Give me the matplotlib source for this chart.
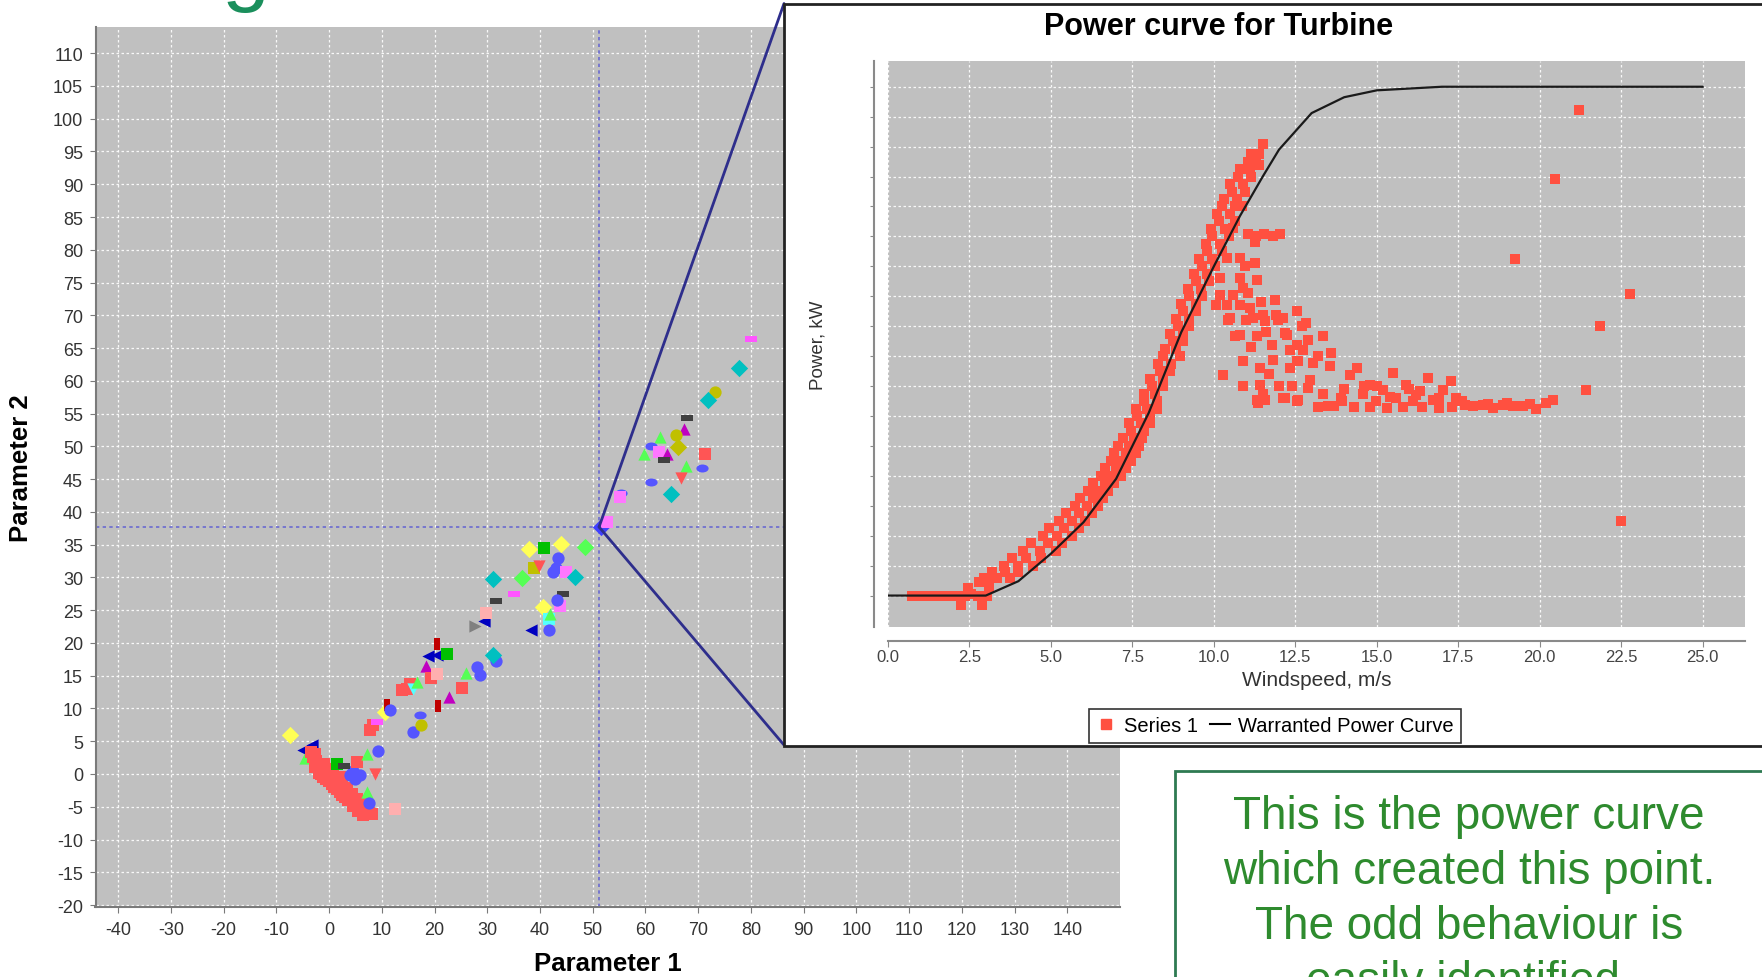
import numpy as np
import matplotlib
matplotlib.use('Agg')
import matplotlib.pyplot as plt
from matplotlib.patches import Rectangle, ConnectionPatch
from matplotlib.path import Path
from matplotlib.transforms import Affine2D
from matplotlib.lines import Line2D

plt.rcParams['font.family'] = ['Liberation Sans', 'DejaVu Sans']
plt.rcParams['axes.unicode_minus'] = False

# ---------------- main chart data (parameter 1, parameter 2, series style) ----------------
low_x = [-7.4, -4.9, -3.3, -4.6,
         -3.0, -2.4, -1.7, -1.0, -0.6, -0.1, 0.3, 0.8, 1.2, 1.5, 2.0, 2.4,
         2.9, 3.4, 3.9, 4.3, 4.8, 5.3, 5.8, 6.2, 6.6, 7.1, 7.6, 8.1,
         -2.0, -1.2, 0.0, 1.0, 2.0, 3.0,
         -2.6, -1.5, -0.5, 0.5, 1.5, 2.5, 3.5, 4.5, 5.5, 6.5, -3.5, -2.7,
         4.9, 4.0, 5.8, 4.5, 8.7, 5.3, 7.2, 9.2, 7.2, 7.6, 12.5, 1.5, 2.8]
low_y = [5.9, 3.6, 4.4, 2.4,
         2.6, 2.0, 1.3, 1.5, 0.4, 0.8, -0.2, 0.0, -1.0, -0.7, -0.4, -1.5,
         -2.4, -2.2, -3.4, -3.0, -4.2, -3.8, -4.6, -4.5, -5.4, -5.3, -6.0, -6.1,
         0.2, -0.5, -1.0, -2.0, -2.8, -3.5,
         1.0, 0.0, -0.8, -1.6, -2.3, -3.2, -4.0, -4.9, -5.6, -6.3, 3.3, 3.0,
         -0.7, -0.2, -0.2, 0.5, 0.0, 1.8, 3.1, 3.5, -2.7, -4.5, -5.4, 1.6, 1.2]
low_sid = [3, 9, 9, 2,
           0, 0, 0, 0, 0, 0, 0, 0, 0, 0, 0, 0,
           0, 0, 0, 0, 0, 0, 0, 0, 0, 0, 0, 0,
           0, 0, 0, 0, 0, 0,
           0, 0, 0, 0, 0, 0, 0, 0, 0, 0, 0, 0,
           1, 1, 1, 1, 17, 0, 2, 1, 2, 1, 21, 10, 14]

branch_x = [7.8, 8.4, 9.0, 10.6, 10.9, 11.5, 13.8, 14.8, 15.3, 16.0, 16.7, 18.3, 18.7, 20.4, 20.5, 22.3, 19.4, 20.5,
            16.0, 17.2, 17.5, 20.7, 22.8, 25.2, 25.9, 28.6, 28.0, 31.7, 31.0]
branch_y = [6.7, 7.4, 7.9, 9.5, 10.5, 9.8, 12.8, 13.0, 13.8, 13.0, 14.0, 16.5, 18.0, 19.8, 18.2, 18.3, 14.7, 15.3,
            6.4, 9.0, 7.5, 10.4, 11.8, 13.1, 15.4, 15.1, 16.3, 17.3, 18.2]
branch_sid = [0, 0, 4, 3, 8, 1, 0, 0, 0, 5, 2, 12, 9, 8, 9, 10, 0, 21,
              1, 16, 11, 8, 12, 0, 2, 1, 1, 1, 13]

mid_x = [27.7, 29.4, 29.8, 31.6, 31.0, 35.0, 36.6, 37.9, 40.8, 43.9, 48.5, 38.8, 39.8, 43.0,
         43.5, 42.5, 45.0, 46.6, 44.4, 40.5, 43.7, 43.2, 41.7, 41.9, 38.3, 41.7, 51.5, 52.7]
mid_y = [22.6, 23.4, 24.5, 26.4, 29.7, 27.5, 29.9, 34.3, 34.5, 35.1, 34.7, 31.4, 31.8, 31.5,
         33.0, 30.8, 30.8, 30.1, 27.4, 25.5, 25.7, 26.6, 23.7, 24.4, 22.0, 22.0, 37.7, 38.4]
mid_sid = [7, 9, 21, 14, 13, 4, 18, 3, 10, 3, 18, 19, 17, 1,
           1, 1, 15, 13, 14, 3, 15, 1, 20, 2, 9, 1, 22, 15]

up_x = [80.0, 77.7, 73.2, 71.8, 67.9, 67.4, 65.8, 66.1, 62.7, 61.0, 59.8,
        62.5, 64.0, 63.6, 71.2, 70.7, 67.7, 66.7, 61.0, 64.8, 55.3, 55.2]
up_y = [66.4, 62.0, 58.3, 57.0, 54.4, 52.7, 51.8, 49.9, 51.4, 50.1, 48.9,
        49.2, 48.9, 47.9, 48.9, 46.7, 47.0, 45.2, 44.6, 42.8, 42.9, 42.3]
up_sid = [4, 13, 11, 13, 14, 12, 11, 23, 2, 16, 2,
          15, 12, 14, 0, 16, 2, 17, 16, 13, 16, 15]

selected_point = (51.2, 37.7)

# ---------------- inset data: windspeed (m/s) vs power (kW) ----------------
curve_ws = [0.0, 3.0, 4.0, 5.0, 6.0, 7.0, 8.0, 9.0, 10.0, 10.8, 11.5, 12.0, 13.0, 14.0, 15.0, 17.0, 25.0]
curve_kw = [0, 0, 48, 140, 245, 390, 610, 880, 1100, 1268, 1400, 1490, 1612, 1665, 1688, 1700, 1700]

flat_ws = [0.75, 0.95, 1.15, 1.35, 1.55, 1.75, 1.95, 2.15, 2.35, 2.55, 2.75, 2.95, 2.25, 2.9, 2.45, 2.8, 3.1, 3.25, 3.05]
flat_kw = [0, 0, 0, 0, 0, 0, 0, 0, 0, 5, 0, 0, -30, -30, 25, 45, 30, 60, 0]

ramp_ws = [2.95, 3.35, 3.75, 3.55, 4.0, 4.45, 4.15, 4.65, 5.15, 4.75, 5.2, 5.65,
           5.25, 5.65, 6.05, 5.75, 6.1, 6.45, 6.15, 6.45, 6.75, 6.55, 6.85, 7.15,
           6.85, 7.15, 7.45, 7.05, 7.4, 7.7, 7.45, 7.85, 7.65, 8.05, 7.85, 8.25,
           8.1, 8.45, 8.35, 8.65, 8.45, 8.95, 8.75, 9.05, 8.9, 9.25, 9.05, 9.45,
           9.25, 9.65, 9.45, 9.85, 9.65, 10.05, 9.8, 10.25, 9.95, 10.45, 10.15, 10.65,
           10.25, 10.65, 10.85, 10.55, 10.95, 10.75, 11.15, 11.05, 11.3, 11.5, 11.4]
ramp_kw = [60, 60, 60, 100, 100, 100, 150, 150, 150, 200, 200, 200,
           250, 250, 250, 300, 300, 300, 350, 350, 350, 400, 400, 400,
           450, 450, 450, 500, 500, 500, 550, 550, 600, 600, 650, 650,
           700, 700, 750, 750, 800, 800, 850, 850, 900, 900, 950, 950,
           1000, 1000, 1050, 1050, 1100, 1100, 1150, 1150, 1200, 1200, 1250, 1250,
           1300, 1300, 1300, 1350, 1350, 1400, 1400, 1450, 1450, 1510, 1440]

fill_ws = [3.2, 3.6, 4.0, 3.8, 4.25, 4.7, 4.4, 4.9, 5.35, 4.95, 5.4, 5.85,
           5.45, 5.85, 6.25, 5.9, 6.3, 6.6, 6.3, 6.65, 6.95, 6.65, 7.0, 7.3,
           6.95, 7.3, 7.6, 7.2, 7.55, 7.8, 7.4, 7.75, 8.05, 7.6, 7.95, 8.25,
           7.85, 8.2, 8.05, 8.45, 8.3, 8.7, 8.5, 8.85, 8.65, 9.05, 8.85, 9.25,
           9.0, 9.45, 9.2, 9.6, 9.4, 9.8, 9.55, 9.95, 9.75, 10.2, 9.9, 10.35,
           10.1, 10.5, 10.3, 10.7, 10.5, 10.9, 10.8, 11.1, 11.15, 11.4]
fill_kw = [80, 80, 80, 125, 125, 125, 175, 175, 175, 225, 225, 225,
           275, 275, 275, 325, 325, 325, 375, 375, 375, 425, 425, 425,
           475, 475, 475, 525, 525, 525, 575, 575, 575, 625, 625, 625,
           675, 675, 725, 725, 775, 775, 825, 825, 875, 875, 925, 925,
           975, 975, 1025, 1025, 1075, 1075, 1125, 1125, 1175, 1175, 1225, 1225,
           1275, 1275, 1325, 1325, 1375, 1375, 1425, 1425, 1475, 1475]

drop_ws = [10.59, 10.39, 10.18, 10.18, 10.08, 11.05, 11.3, 11.55, 11.8, 12.02, 11.25,
           10.8, 11.26, 11.31, 10.8, 10.9, 10.59, 10.39, 10.49, 10.8, 11.1, 11.2, 11.51,
           11.87, 11.92, 12.13, 12.54, 10.8, 11.31, 11.77, 12.23, 12.54, 10.9, 11.41,
           11.82, 12.54, 10.29, 10.9, 11.41, 11.51, 11.36, 12.13, 12.54, 10.44, 11.0,
           11.56, 11.97, 12.84, 10.64, 12.18, 12.89, 13.35, 12.74, 13.61, 12.33, 12.59,
           13.05, 13.56, 11.31, 11.56, 12.18, 12.59, 12.89, 13.35, 13.51, 13.92,
           11.05, 11.6, 12.35, 12.7, 11.15, 11.7, 12.0, 12.95, 13.2, 10.95, 11.45, 12.4]
drop_kw = [1227, 1127, 1061, 1005, 972, 1207, 1200, 1207, 1200, 1207, 1180,
           1127, 1111, 1055, 1061, 1027, 1005, 972, 927, 972, 961, 927, 938,
           988, 938, 927, 950, 872, 866, 838, 872, 838, 783, 761,
           788, 783, 738, 700, 705, 672, 644, 661, 650, 922, 922,
           916, 922, 911, 866, 877, 855, 866, 822, 811, 761, 783,
           777, 766, 655, 655, 661, 655, 694, 672, 633, 650,
           1010, 880, 820, 900, 830, 740, 700, 720, 800, 1100, 980, 700]

tail_ws = [14.17, 14.38, 14.58, 14.79, 14.99, 15.19, 15.5, 15.6, 15.91, 16.11, 16.32, 16.58,
           16.73, 17.04, 17.29, 17.44, 17.7, 17.96, 18.26, 18.57, 18.88, 19.18, 19.49, 19.9,
           20.2, 20.41, 13.2, 13.7, 14.3, 14.8, 15.3, 15.8, 16.4, 16.9, 17.3, 14.0, 15.0, 16.0,
           13.9, 14.6, 15.4, 16.2, 16.9, 17.6, 18.4, 19.0, 19.7]
tail_kw = [738, 761, 672, 705, 650, 688, 744, 661, 705, 650, 683, 727,
           655, 688, 716, 661, 638, 633, 638, 627, 638, 633, 633, 622,
           644, 655, 629, 633, 629, 629, 627, 629, 629, 627, 629, 690, 700, 690,
           660, 700, 665, 670, 660, 650, 640, 645, 640]

outlier_ws = [21.2, 20.46, 19.25, 22.77, 21.85, 21.43, 22.48]
outlier_kw = [1622, 1391, 1124, 1008, 900, 688, 250]

note_lines = ['This is the power curve', 'which created this point.',
              'The odd behaviour is', 'easily identified.']

# ---------------- marker styles (JFreeChart-like series paints / shapes) ----------------
HRECT = [(-1, -0.55), (1, -0.55), (1, 0.55), (-1, 0.55)]
VRECT = [(-0.5, -1), (0.5, -1), (0.5, 1), (-0.5, 1)]
ELLIPSE = Affine2D().scale(1, 0.65).transform_path(Path.unit_circle())

STYLES = [
    ('#ff5555', 's'), ('#5555ff', 'o'), ('#55ff55', '^'), ('#ffff55', 'D'),
    ('#ff55ff', HRECT), ('#55ffff', 'v'), ('#ffafaf', ELLIPSE), ('#808080', '>'),
    ('#c00000', VRECT), ('#0000c0', '<'), ('#00c000', 's'), ('#c0c000', 'o'),
    ('#c000c0', '^'), ('#00c0c0', 'D'), ('#404040', HRECT), ('#ff77ff', 's'),
    ('#5555ff', ELLIPSE), ('#ff5555', 'v'), ('#55ff55', 'D'), ('#c0c000', 's'),
    ('#55ffff', 's'), ('#ffafaf', 's'), ('#4040ff', 'D'), ('#c0c000', 'D'),
]

W, H = 1762, 978
fig = plt.figure(figsize=(W / 100, H / 100), dpi=100)
fig.patch.set_facecolor('white')

# ---------------- main chart ----------------
ax = fig.add_axes([95.5 / W, 1 - 908 / H, (1120 - 95.5) / W, (908 - 28) / H])
ax.set_facecolor('#c0c0c0')
ax.set_xlim(-44.3, 150)
ax.set_ylim(-20.3, 114)
ax.set_xticks(np.arange(-40, 141, 10))
ax.set_yticks(np.arange(-20, 111, 5))
ax.grid(True, color='white', linestyle=(0, (2, 2)), linewidth=0.9, alpha=0.9)
ax.set_axisbelow(True)
for s in ['top', 'right']:
    ax.spines[s].set_visible(False)
for s in ['left', 'bottom']:
    ax.spines[s].set_color('#7a7a7a')
    ax.spines[s].set_linewidth(1.5)
ax.tick_params(axis='both', length=4, color='#7a7a7a', labelsize=13, labelcolor='#333333')
ax.tick_params(axis='y', pad=5)
ax.tick_params(axis='x', pad=6)
ax.set_xlabel('Parameter 1', fontsize=18.5, fontweight='bold')
ax.set_ylabel('Parameter 2', fontsize=18.5, fontweight='bold')
ax.xaxis.set_label_coords(0.5, -0.05)
ax.yaxis.set_label_coords(-0.061, 0.5)

ax.axvline(selected_point[0], color='#6a6ad0', linestyle=(0, (2, 2)), linewidth=1.2, zorder=2)
ax.axhline(selected_point[1], color='#6a6ad0', linestyle=(0, (2, 2)), linewidth=1.2, zorder=2)

for gx, gy, gs in [(low_x, low_y, low_sid), (branch_x, branch_y, branch_sid),
                   (mid_x, mid_y, mid_sid), (up_x, up_y, up_sid)]:
    for x, y, sid in zip(gx, gy, gs):
        col, mk = STYLES[sid]
        ax.scatter(x, y, s=78, c=col, marker=mk, linewidths=0, zorder=3)

# lines from selected point to the inset panel
for corner in [(784 / W, 1 - 4.5 / H), (784 / W, 1 - 746 / H)]:
    con = ConnectionPatch(xyA=selected_point, coordsA='data', axesA=ax,
                          xyB=corner, coordsB='figure fraction',
                          color='#2e2e8c', linewidth=2)
    con.set_zorder(3)
    fig.add_artist(con)

# ---------------- inset panel ----------------
panel = Rectangle((784 / W, 1 - 747 / H), (1800 - 784) / W, (747 - 4.5) / H,
                  transform=fig.transFigure, facecolor='white', edgecolor='#222222',
                  linewidth=2, zorder=4)
fig.add_artist(panel)

ax2 = fig.add_axes([888 / W, 1 - 628 / H, (1745 - 888) / W, (628 - 62) / H])
ax2.set_zorder(5)
ax2.set_facecolor('#c0c0c0')
ax2.set_xlim(0, 26.3)
ax2.set_ylim(-105, 1786)
ax2.set_xticks(np.arange(0, 25.1, 2.5))
ax2.set_xticklabels(['%.1f' % v for v in np.arange(0, 25.1, 2.5)])
ax2.set_yticks(np.arange(0, 1701, 100))
ax2.set_yticklabels([])
ax2.grid(True, color='white', linestyle=(0, (2, 2)), linewidth=0.9, alpha=0.9)
ax2.set_axisbelow(True)
for s in ['top', 'right']:
    ax2.spines[s].set_visible(False)
for s in ['left', 'bottom']:
    ax2.spines[s].set_position(('outward', 10))
    ax2.spines[s].set_color('#8a8a8a')
    ax2.spines[s].set_linewidth(1.5)
ax2.tick_params(axis='x', length=4, color='#8a8a8a', labelsize=12, labelcolor='#444444', pad=2)
ax2.tick_params(axis='y', length=3, color='#8a8a8a')
ax2.set_xlabel('Windspeed, m/s', fontsize=15, color='#333333')
ax2.set_ylabel('Power, kW', fontsize=13.5, color='#333333')
ax2.xaxis.set_label_coords(0.5, -0.076)
ax2.yaxis.set_label_coords(-0.072, 0.5)

red = '#ff5040'
for xs, ys in [(flat_ws, flat_kw), (ramp_ws, ramp_kw), (fill_ws, fill_kw), (drop_ws, drop_kw),
               (tail_ws, tail_kw), (outlier_ws, outlier_kw)]:
    ax2.scatter(xs, ys, s=60, marker='s', c=red, linewidths=0, zorder=3)
ax2.plot(curve_ws, curve_kw, color='#1a1a1a', linewidth=1.6, zorder=4)

fig.text(1219 / W, 1 - 27 / H, 'Power curve for Turbine', fontsize=22, fontweight='bold',
         ha='center', va='center', zorder=6)

handles = [Line2D([], [], marker='s', color=red, linestyle='none', markersize=7),
           Line2D([], [], color='black', linewidth=1.5)]
leg = fig.legend(handles, ['Series 1', 'Warranted Power Curve'], loc='center',
                 bbox_to_anchor=(1275 / W, 1 - 727 / H), ncol=2, frameon=True,
                 fancybox=False, edgecolor='black', fontsize=14.5, handlelength=1.0,
                 handletextpad=0.4, columnspacing=0.6, borderpad=0.35)
leg.get_frame().set_linewidth(1.2)
leg.set_zorder(7)

# ---------------- note box ----------------
box = Rectangle((1175 / W, -0.1), 0.5, (978 - 772) / H + 0.1, transform=fig.transFigure,
                facecolor='white', edgecolor='#2e7a52', linewidth=2, zorder=4)
fig.add_artist(box)
for i, line in enumerate(note_lines):
    fig.text(1469 / W, 1 - (829 + 55 * i) / H, line, fontsize=33, color='#2e8b2e',
             ha='center', va='baseline', zorder=6)

# cut-off slide title letter
fig.text(0.139, 1.005, 'g', fontsize=62, color='#1a8f5c', ha='center', va='baseline')

fig.savefig('out.png', dpi=100)
